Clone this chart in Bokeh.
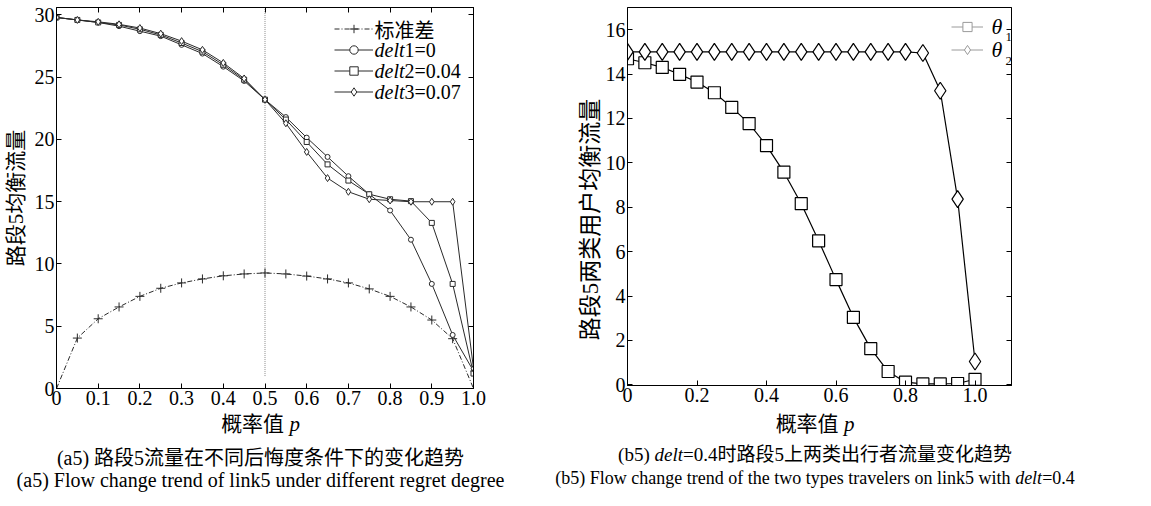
from bokeh.plotting import figure
from bokeh.models import (Range1d, FixedTicker, LinearAxis, Legend, LegendItem, Label,
                          CustomJSTickFormatter, ColumnDataSource, Div)
from bokeh.layouts import row, column
from bokeh.embed import file_html
from bokeh.resources import INLINE

# ---------------- data ----------------
p_vals = [0, 0.05, 0.1, 0.15, 0.2, 0.25, 0.3, 0.35, 0.4, 0.45, 0.5,
          0.55, 0.6, 0.65, 0.7, 0.75, 0.8, 0.85, 0.9, 0.95, 1.0]
std_dev = [0, 4.05, 5.6, 6.55, 7.4, 8.05, 8.48, 8.8, 9.05, 9.2, 9.28,
           9.2, 9.03, 8.8, 8.48, 8.0, 7.4, 6.55, 5.5, 4.0, 0]
delt1 = [29.8, 29.6, 29.4, 29.1, 28.7, 28.3, 27.6, 26.9, 25.85, 24.7, 23.2,
         21.8, 20.15, 18.6, 17.05, 15.6, 14.3, 11.95, 8.4, 4.3, 1.4]
delt2 = [29.8, 29.6, 29.4, 29.2, 28.85, 28.4, 27.75, 27.05, 26.0, 24.8, 23.2,
         21.6, 19.8, 18.0, 16.7, 15.6, 15.2, 15.05, 13.3, 8.4, 1.2]
delt3 = [29.8, 29.6, 29.45, 29.25, 28.95, 28.5, 27.9, 27.2, 26.15, 24.9, 23.2,
         21.3, 19.0, 16.9, 15.8, 15.2, 15.1, 15.0, 15.0, 15.0, 1.6]
mid_p = 0.5
mid_line_bottom = 1.0

theta1 = [14.69, 14.51, 14.3, 13.99, 13.64, 13.16, 12.5, 11.77, 10.78, 9.58, 8.16,
          6.49, 4.74, 3.04, 1.63, 0.6, 0.12, 0.04, 0.04, 0.06, 0.25]
theta2 = [15.0, 15.0, 15.0, 15.0, 15.0, 15.0, 15.0, 15.0, 15.0, 15.0, 15.0,
          15.0, 15.0, 15.0, 15.0, 15.0, 15.0, 14.95, 13.25, 8.37, 1.05]

x_ticks_a = [0, 0.1, 0.2, 0.3, 0.4, 0.5, 0.6, 0.7, 0.8, 0.9, 1.0]
y_ticks_a = [0, 5, 10, 15, 20, 25, 30]
x_ticks_b = [0, 0.2, 0.4, 0.6, 0.8, 1.0]
y_ticks_b = [0, 2, 4, 6, 8, 10, 12, 14, 16]

legend_a = ["标准差", ("delt", "1=0"), ("delt", "2=0.04"), ("delt", "3=0.07")]
legend_b = [("θ", "1"), ("θ", "2")]
xlabel = [("概率值 ", "normal"), ("p", "italic")]
ylabel_a = "路段5均衡流量"
ylabel_b = "路段5两类用户均衡流量"
cap_a_cn = [("(a5) 路段5流量在不同后悔度条件下的变化趋势", "normal")]
cap_a_en = [("(a5) Flow change trend of link5 under different regret degree", "normal")]
cap_b_cn = [("(b5) ", "normal"), ("delt", "italic"), ("=0.4时路段5上两类出行者流量变化趋势", "normal")]
cap_b_en = [("(b5) Flow change trend of the two types travelers on link5 with ", "normal"),
            ("delt", "italic"), ("=0.4", "normal")]

# ---------------- styling helpers ----------------
FONT = "'Liberation Serif', 'Noto Sans CJK SC', serif"
CJK = "'Noto Sans CJK SC', sans-serif"
INK = "#2a2a2a"

W_REG = {' ': 250, '(': 333, ')': 333, '.': 250, '=': 564, 'a': 444, 'b': 500, 'c': 444,
         'd': 500, 'e': 444, 'f': 333, 'g': 500, 'h': 500, 'i': 278, 'j': 278, 'k': 500,
         'l': 278, 'm': 778, 'n': 500, 'o': 500, 'p': 500, 'q': 500, 'r': 333, 's': 389,
         't': 278, 'u': 500, 'v': 500, 'w': 722, 'x': 500, 'y': 500, 'z': 444, 'F': 556}
W_IT = {'d': 500, 'e': 444, 'l': 278, 't': 278, 'p': 500}


def text_w(s, style, size):
    tot = 0.0
    for ch in s:
        if ord(ch) > 0x2E80:
            tot += 1000
        elif ch.isdigit():
            tot += 500
        else:
            tot += (W_IT if style == "italic" else W_REG).get(ch, 500)
    return tot / 1000.0 * size


def runs(fig, items, x, y, size, font=FONT):
    for t, s in items:
        fig.add_layout(Label(x=x, y=y, x_units="screen", y_units="screen", text=t,
                             text_font=font, text_font_style=s, text_font_size=f"{size}px",
                             text_baseline="middle", text_align="left", text_color="black"))
        x += text_w(t, s, size)


def style_axis(ax, ticks, fmt_code, label_size="20px", standoff=3):
    ax.ticker = FixedTicker(ticks=ticks)
    ax.formatter = CustomJSTickFormatter(code=fmt_code)
    ax.axis_line_color = "black"
    ax.major_tick_line_color = "black"
    ax.major_tick_in = 5
    ax.major_tick_out = 0
    ax.minor_tick_line_color = None
    ax.major_label_text_font = FONT
    ax.major_label_text_font_size = label_size
    ax.major_label_text_color = "black"
    ax.major_label_standoff = standoff
    ax.axis_label_text_font = FONT
    ax.axis_label_text_font_style = "normal"
    ax.axis_label_text_color = "black"


def html_runs(items):
    out = ""
    for t, s in items:
        out += f"<i>{t}</i>" if s == "italic" else t
    return out


def caption_div(width, height, frame_left, frame_width, lines):
    cx = frame_left + frame_width / 2
    parts = []
    for items, cy, size in lines:
        top = cy - size / 2
        parts.append(
            f'<div style="position:absolute;left:{cx}px;top:{top}px;transform:translateX(-50%);'
            f'white-space:nowrap;font-family:{FONT};font-size:{size}px;line-height:{size}px;'
            f'color:black;">{html_runs(items)}</div>')
    html = (f'<div style="position:relative;width:{width}px;height:{height}px;">'
            + "".join(parts) + "</div>")
    return Div(text=html, width=width, height=height, margin=0)


FMT_P = "return tick == 0 ? '0' : tick.toFixed(1);"
FMT_INT = "return tick.toFixed(0);"
FMT_NONE = "return '';"

DIV_H = 79

# ---------------- left panel ----------------
A_LEFT, A_FW, A_RIGHT = 52, 417, 83
pa = figure(frame_width=A_FW, frame_height=381, x_range=Range1d(0, 1.0), y_range=Range1d(0, 30.6),
            output_backend="svg", toolbar_location=None,
            min_border_left=A_LEFT, min_border_right=A_RIGHT, min_border_top=4, min_border_bottom=26)
pa.xgrid.visible = False
pa.ygrid.visible = False
pa.outline_line_color = "black"
pa.background_fill_color = "white"
pa.border_fill_color = "white"

style_axis(pa.xaxis[0], x_ticks_a, FMT_P, standoff=2)
style_axis(pa.yaxis[0], y_ticks_a, FMT_INT, standoff=2)
pa.yaxis.axis_label = ylabel_a
pa.yaxis.axis_label_text_font_size = "21px"
pa.yaxis.axis_label_standoff = 4
top_a = LinearAxis()
style_axis(top_a, x_ticks_a, FMT_NONE, standoff=0)
pa.add_layout(top_a, "above")
right_a = LinearAxis()
style_axis(right_a, y_ticks_a, FMT_NONE, standoff=0)
pa.add_layout(right_a, "right")

src_a = ColumnDataSource(dict(p=p_vals, s=std_dev, d1=delt1, d2=delt2, d3=delt3))

pa.segment(x0=[mid_p], y0=[mid_line_bottom], x1=[mid_p], y1=[pa.y_range.end],
           line_color="#8c8c8c", line_width=1, line_dash="1 1")

l0 = pa.line('p', 's', source=src_a, line_color=INK, line_width=1, line_dash="5 2 1 2")
m0 = pa.scatter('p', 's', source=src_a, marker="cross", size=9, line_color=INK, line_width=1)
l1 = pa.line('p', 'd1', source=src_a, line_color=INK, line_width=1)
m1 = pa.scatter('p', 'd1', source=src_a, marker="circle", size=5, line_color=INK,
                fill_color="white", line_width=1)
l2 = pa.line('p', 'd2', source=src_a, line_color=INK, line_width=1)
m2 = pa.scatter('p', 'd2', source=src_a, marker="square", size=5, line_color=INK,
                fill_color="white", line_width=1)
l3 = pa.line('p', 'd3', source=src_a, line_color=INK, line_width=1)
m3 = pa.scatter('p', 'd3', source=src_a, marker="diamond", size=7, line_color=INK,
                fill_color="white", line_width=1)

leg_a = Legend(items=[LegendItem(label=" ", renderers=[l0, m0]),
                      LegendItem(label=" ", renderers=[l1, m1]),
                      LegendItem(label=" ", renderers=[l2, m2]),
                      LegendItem(label=" ", renderers=[l3, m3])],
               location=(278, 286), padding=0, spacing=0, margin=0,
               glyph_width=39, glyph_height=21, label_height=21, label_width=0,
               label_standoff=0, label_text_font_size="6px",
               border_line_alpha=0, background_fill_alpha=0)
pa.add_layout(leg_a)

LEG_X = 318
LEG_Y0 = 359.5
LEG_DY = 21
for i, item in enumerate(legend_a):
    yy = LEG_Y0 - i * LEG_DY
    if isinstance(item, str):
        runs(pa, [(item, "normal")], LEG_X, yy, 20, font=CJK)
    else:
        runs(pa, [(item[0], "italic"), (item[1], "normal")], LEG_X, yy, 20)

# ---------------- right panel ----------------
B_LEFT, B_FW, B_RIGHT = 71, 384, 112
pb = figure(frame_width=B_FW, frame_height=378, x_range=Range1d(0, 1.105), y_range=Range1d(-0.03, 17.0),
            output_backend="svg", toolbar_location=None,
            min_border_left=B_LEFT, min_border_right=B_RIGHT, min_border_top=7, min_border_bottom=26)
pb.xgrid.visible = False
pb.ygrid.visible = False
pb.outline_line_color = "black"
pb.background_fill_color = "white"
pb.border_fill_color = "white"

style_axis(pb.xaxis[0], x_ticks_b, FMT_P, standoff=2)
style_axis(pb.yaxis[0], y_ticks_b, FMT_INT, standoff=2)
# two ideographic spaces at the end move the centred label down, as in the reference
pb.yaxis.axis_label = ylabel_b + "\u3000\u3000"
pb.yaxis.axis_label_text_font_size = "23px"
pb.yaxis.axis_label_standoff = 0
right_b = LinearAxis()
style_axis(right_b, y_ticks_b, FMT_NONE, standoff=0)
pb.add_layout(right_b, "right")

src_b = ColumnDataSource(dict(p=p_vals, t1=theta1, t2=theta2))
pb.line('p', 't1', source=src_b, line_color="black", line_width=1.2)
pb.scatter('p', 't1', source=src_b, marker="square", size=12, line_color="black",
           fill_color="white", line_width=1.2)
pb.line('p', 't2', source=src_b, line_color="black", line_width=1.2)
pb.scatter('p', 't2', source=src_b, marker="diamond", size=17, line_color="black",
           fill_color="white", line_width=1.2)

GRAY = "#9a9a9a"
NAN = float("nan")
gl1 = pb.line(x=[NAN], y=[NAN], line_color=GRAY, line_width=1)
gm1 = pb.scatter(x=[NAN], y=[NAN], marker="square", size=9, line_color=GRAY, fill_color="white")
gl2 = pb.line(x=[NAN], y=[NAN], line_color=GRAY, line_width=1)
gm2 = pb.scatter(x=[NAN], y=[NAN], marker="diamond", size=12, line_color=GRAY, fill_color="white")
leg_b = Legend(items=[LegendItem(label=" ", renderers=[gl1, gm1]),
                      LegendItem(label=" ", renderers=[gl2, gm2])],
               location=(324, 324.5), padding=0, spacing=0, margin=0,
               glyph_width=32, glyph_height=23, label_height=23, label_width=0,
               label_standoff=0, label_text_font_size="6px",
               border_line_alpha=0, background_fill_alpha=0)
pb.add_layout(leg_b)

TH_Y0 = 359
SUB_DY = [-10, -11]
for i, (sym, sub) in enumerate(legend_b):
    yy = TH_Y0 - i * 23
    runs(pb, [(sym, "italic")], 364, yy, 22)
    runs(pb, [(sub, "normal")], 378, yy + SUB_DY[i], 13)

# ---------------- texts below the panels ----------------
div_a = caption_div(A_LEFT + A_FW + A_RIGHT, DIV_H, A_LEFT, A_FW,
                    [(xlabel, 13, 21), (cap_a_cn, 47, 20), (cap_a_en, 69, 20)])
div_b = caption_div(B_LEFT + B_FW + B_RIGHT, DIV_H, B_LEFT, B_FW,
                    [(xlabel, 13, 21), (cap_b_cn, 43, 19), (cap_b_en, 67, 18)])

layout = column(row(pa, pb), row(div_a, div_b))
open("out.html", "w").write(file_html(layout, INLINE))
